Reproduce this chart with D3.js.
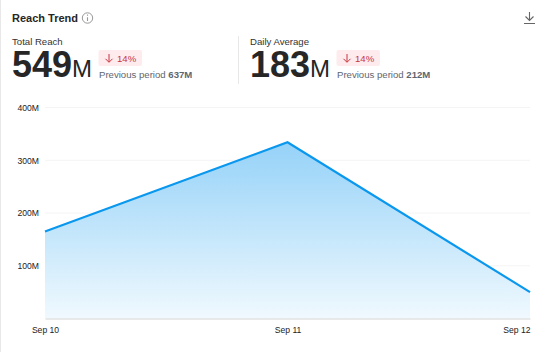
<!DOCTYPE html>
<html>
<head>
<meta charset="utf-8">
<script src="https://cdn.jsdelivr.net/npm/d3@7"></script>
<style>
html, body { margin: 0; padding: 0; background: #fff; }
svg { display: block; font-family: "Liberation Sans", Arial, sans-serif; }
</style>
</head>
<body>
<svg id="drawing_region"></svg>
<script>
const dates = ['Sep 10', 'Sep 11', 'Sep 12'];
const reach = [165, 334, 50];
const y_ticks = [100, 200, 300, 400];
const y_tick_labels = ['100M', '200M', '300M', '400M'];

// header figures
const kpi_titles = ['Total Reach', 'Daily Average'];
const kpi_values = ['549', '183'];
const kpi_changes = ['14%', '14%'];
const kpi_previous = ['637M', '212M'];
const kpi_left = [12, 250];

const width = 550, height = 352;
const margin = {top: 107.5, right: 20, bottom: 33.5, left: 45};
const font = '"Liberation Sans", Arial, sans-serif';

const svg = d3.select('#drawing_region')
    .attr('width', width)
    .attr('height', height);

// left edge of the card
svg.append('rect').attr('x', 0).attr('y', 0).attr('width', 1).attr('height', height).attr('fill', '#e8e8e8');

// title row
svg.append('text').attr('x', 12).attr('y', 22).attr('font-size', 11).attr('font-weight', 700)
    .attr('fill', '#262626').text('Reach Trend');

const info = svg.append('g').attr('transform', 'translate(87.5,18)')
    .attr('fill', 'none').attr('stroke', '#999');
info.append('circle').attr('r', 5.2);
info.append('path').attr('d', 'M0,-0.8V3M0,-3.4V-2.2').attr('stroke-width', 1.1);

svg.append('path').attr('d', 'M529.5,12V20.5M525.5,16.5L529.5,20.5L533.5,16.5M524,23.5H535')
    .attr('fill', 'none').attr('stroke', '#666').attr('stroke-width', 1.1);

// divider between the two figures
svg.append('line').attr('x1', 238.5).attr('x2', 238.5).attr('y1', 36).attr('y2', 84).attr('stroke', '#e8e8e8');

kpi_titles.forEach((title, i) => {
    const g = svg.append('g').attr('transform', `translate(${kpi_left[i]},0)`);
    g.append('text').attr('x', 0).attr('y', 44.5).attr('font-size', 9.6).attr('fill', '#333').text(title);

    const big = g.append('text').attr('x', 0).attr('y', 77).attr('fill', '#262626');
    big.append('tspan').attr('font-size', 36).attr('font-weight', 700).text(kpi_values[i]);
    big.append('tspan').attr('font-size', 24).text('M');

    g.append('rect').attr('x', 86.5).attr('y', 50).attr('width', 43.5).attr('height', 16)
        .attr('rx', 2).attr('fill', '#fdebee');
    g.append('path').attr('d', 'M97,54V62M93.5,58.8L97,62.3L100.5,58.8')
        .attr('fill', 'none').attr('stroke', '#c9353f').attr('stroke-width', 1);
    g.append('text').attr('x', 105).attr('y', 61.5).attr('font-size', 9.6).attr('fill', '#c9353f').text(kpi_changes[i]);

    const prev = g.append('text').attr('x', 87).attr('y', 78).attr('font-size', 9.6).attr('fill', '#5f6670');
    prev.append('tspan').text('Previous period ');
    prev.append('tspan').attr('font-weight', 700).text(kpi_previous[i]);
});

// chart
const chart = svg.append('g').attr('transform', `translate(${margin.left}, ${margin.top})`);
const inner_width = width - margin.left - margin.right;
const inner_height = height - margin.top - margin.bottom;

const xscale = d3.scalePoint().domain(dates).range([0, inner_width]);
const yscale = d3.scaleLinear().domain([0, 400]).range([inner_height, 0]);

const defs = svg.append('defs');
const grad = defs.append('linearGradient').attr('id', 'area_fill')
    .attr('gradientUnits', 'userSpaceOnUse')
    .attr('x1', 0).attr('x2', 0).attr('y1', yscale(d3.max(reach))).attr('y2', yscale(0));
grad.append('stop').attr('offset', '0%').attr('stop-color', '#95d2f8');
grad.append('stop').attr('offset', '100%').attr('stop-color', '#f0f9fe');

const area = d3.area()
    .x((d, i) => xscale(dates[i]))
    .y0(yscale(0))
    .y1(d => yscale(d));
const line = d3.line()
    .x((d, i) => xscale(dates[i]))
    .y(d => yscale(d));

// grid, behind the area
chart.append('g').selectAll('line').data(y_ticks).enter().append('line')
    .attr('x1', 0).attr('x2', inner_width)
    .attr('y1', d => yscale(d)).attr('y2', d => yscale(d))
    .attr('stroke', '#f4f4f4');

chart.append('path').datum(reach).attr('d', area).attr('fill', 'url(#area_fill)');
chart.append('path').datum(reach).attr('d', line)
    .attr('fill', 'none').attr('stroke', '#0a97ee').attr('stroke-width', 2.2);

const yaxis = d3.axisLeft(yscale)
    .tickValues(y_ticks)
    .tickFormat((d, i) => y_tick_labels[i])
    .tickSize(0)
    .tickPadding(6);
const yaxis_group = chart.append('g').call(yaxis);
yaxis_group.select('.domain').remove();
yaxis_group.selectAll('text').attr('font-size', 8.6).attr('font-family', font).attr('fill', '#222');

const xaxis = d3.axisBottom(xscale).tickSize(0).tickPadding(8);
const xaxis_group = chart.append('g').attr('transform', `translate(0, ${inner_height})`).call(xaxis);
xaxis_group.select('.domain').attr('stroke', '#d4d4d4');
xaxis_group.selectAll('text').attr('font-size', 8.6).attr('font-family', font).attr('fill', '#222')
    .attr('text-anchor', (d, i) => i === dates.length - 1 ? 'end' : 'middle');
</script>
</body>
</html>
